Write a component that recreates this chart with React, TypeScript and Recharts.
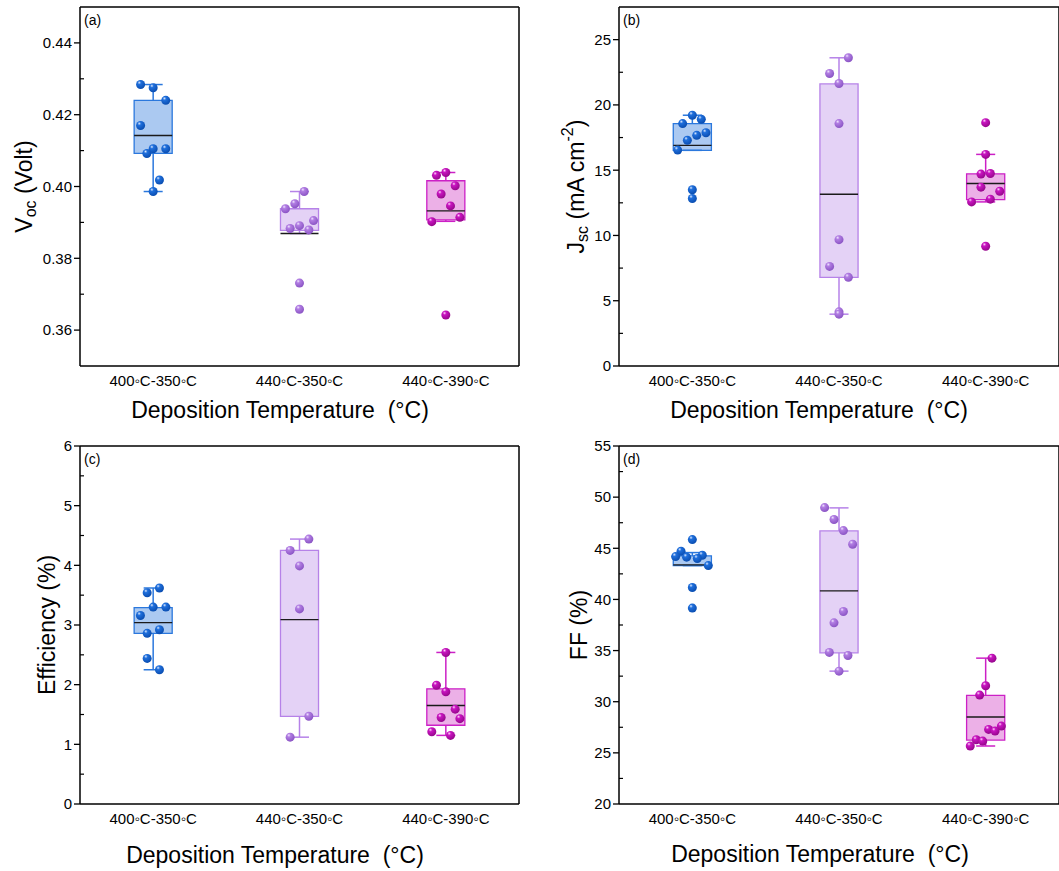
import React from 'react';
import { ComposedChart, XAxis, YAxis, Scatter, ReferenceArea, ReferenceLine } from 'recharts';

const categories = ['400◦C-350◦C', '440◦C-350◦C', '440◦C-390◦C'];

// points are [jitter offset in category units, value]
const vocPoints = [
  [[-0.086, 0.4284], [0, 0.4275], [0.086, 0.424], [-0.086, 0.417], [-0.043, 0.4092], [0, 0.4105], [0.086, 0.4105], [0.043, 0.4018], [0, 0.3986]],
  [[-0.096, 0.3938], [-0.032, 0.3952], [0.032, 0.3986], [0.096, 0.3905], [-0.064, 0.3883], [0, 0.3891], [0.064, 0.3879], [0, 0.3731], [0, 0.3658]],
  [[-0.064, 0.4031], [0, 0.4039], [0.064, 0.4002], [-0.032, 0.3979], [0.032, 0.3946], [-0.096, 0.3902], [0.096, 0.3914], [0, 0.3642]],
];
const vocBoxes = [
  { lo: 0.3986, q1: 0.4092, med: 0.4142, q3: 0.424, hi: 0.4284 },
  { lo: 0.3869, q1: 0.3878, med: 0.3869, q3: 0.3938, hi: 0.3986 },
  { lo: 0.3903, q1: 0.3907, med: 0.3932, q3: 0.4016, hi: 0.4039 },
];

const jscPoints = [
  [[0, 19.21], [-0.066, 18.57], [0.061, 18.9], [0.093, 17.87], [0.03, 17.67], [-0.034, 17.29], [-0.1, 16.54], [0, 13.5], [0, 12.83]],
  [[0.064, 23.61], [-0.064, 22.41], [0, 21.64], [0, 18.57], [0, 9.68], [-0.064, 7.63], [0.064, 6.79], [0, 4.15], [0, 3.97]],
  [[0, 18.64], [0, 16.21], [-0.032, 14.7], [0.032, 14.75], [-0.032, 13.7], [0.096, 13.39], [0.032, 12.78], [-0.096, 12.57], [0, 9.17]],
];
const jscBoxes = [
  { lo: 16.52, q1: 16.52, med: 16.9, q3: 18.57, hi: 19.21 },
  { lo: 3.97, q1: 6.79, med: 13.16, q3: 21.61, hi: 23.61 },
  { lo: 12.57, q1: 12.75, med: 13.98, q3: 14.72, hi: 16.21 },
];

const effPoints = [
  [[0.043, 3.62], [-0.041, 3.54], [0, 3.3], [0.087, 3.3], [-0.087, 3.16], [0.043, 2.92], [-0.041, 2.86], [-0.041, 2.44], [0.043, 2.25]],
  [[0.064, 4.44], [-0.064, 4.25], [0, 3.99], [0, 3.27], [0.064, 1.47], [-0.064, 1.12]],
  [[0, 2.54], [-0.064, 1.99], [0, 1.88], [0.064, 1.59], [-0.032, 1.45], [0.096, 1.43], [-0.096, 1.21], [0.032, 1.15]],
];
const effBoxes = [
  { lo: 2.25, q1: 2.86, med: 3.04, q3: 3.29, hi: 3.62 },
  { lo: 1.12, q1: 1.47, med: 3.09, q3: 4.25, hi: 4.44 },
  { lo: 1.15, q1: 1.32, med: 1.65, q3: 1.93, hi: 2.54 },
];

const ffPoints = [
  [[0, 45.85], [-0.077, 44.71], [-0.114, 44.19], [-0.039, 44.13], [0.068, 44.32], [0.034, 44.0], [0.109, 43.31], [0, 41.17], [0, 39.15]],
  [[-0.098, 48.98], [-0.034, 47.81], [0.03, 46.73], [0.093, 45.4], [0.03, 38.82], [-0.034, 37.71], [-0.066, 34.82], [0.061, 34.52], [0, 32.99]],
  [[0.043, 34.26], [0, 31.56], [-0.041, 30.65], [0.107, 27.62], [0.02, 27.29], [0.064, 27.13], [-0.064, 26.28], [-0.02, 26.15], [-0.105, 25.67]],
];
const ffBoxes = [
  { lo: 43.31, q1: 43.31, med: 43.38, q3: 44.26, hi: 44.58 },
  { lo: 32.99, q1: 34.78, med: 40.84, q3: 46.7, hi: 48.95 },
  { lo: 25.67, q1: 26.25, med: 28.5, q3: 30.62, hi: 34.26 },
];

const vocTicks = [0.36, 0.38, 0.40, 0.42, 0.44];
const vocMinor = [0.37, 0.39, 0.41, 0.43];
const jscTicks = [0, 5, 10, 15, 20, 25];
const jscMinor = [2.5, 7.5, 12.5, 17.5, 22.5];
const effTicks = [0, 1, 2, 3, 4, 5, 6];
const effMinor = [0.5, 1.5, 2.5, 3.5, 4.5, 5.5];
const ffTicks = [20, 25, 30, 35, 40, 45, 50, 55];
const ffMinor = [22.5, 27.5, 32.5, 37.5, 42.5, 47.5, 52.5];

const COLORS = [
  { edge: '#2b78dd', fill: '#abc9f1', pt: '#1f6fdc', dark: '#0b4fb3', light: '#dbe8ff' },
  { edge: '#b682e8', fill: '#e4d2f6', pt: '#b27ee3', dark: '#8d57c6', light: '#f1e6ff' },
  { edge: '#cc20c6', fill: '#ecb0e7', pt: '#c915c1', dark: '#99088f', light: '#ffd8fb' },
];

const BOX_HALF = 0.13;
const CAP_HALF = 0.065;

const noLabel = () => <g />;

const Panel = ({ id, left, top, width, height, margin, yWidth, xHeight, domain, ticks, minor, fmt, points, boxes, tag, yTitle, yTitleX, xTitleX, xTitleY }: any) => {
  const plotTop = margin.top;
  const plotBottom = height - xHeight;
  const midY = (plotTop + plotBottom) / 2;
  return (
    <div style={{ position: 'absolute', left, top }}>
      <ComposedChart width={width} height={height} margin={margin} style={{ fontFamily: '"Liberation Sans", Arial, sans-serif' }}>
        <defs>
          {COLORS.map((c, i) => (
            <radialGradient key={i} id={`${id}-g${i}`} cx="38%" cy="32%" r="65%" fx="35%" fy="28%">
              <stop offset="0%" stopColor={c.light} />
              <stop offset="30%" stopColor={c.pt} />
              <stop offset="100%" stopColor={c.dark} />
            </radialGradient>
          ))}
        </defs>
        <XAxis xAxisId={0} dataKey="x" type="number" domain={[0.5, 3.5]} allowDataOverflow ticks={[1, 2, 3]}
          tickFormatter={(v: number) => categories[v - 1]} tickLine={false} tickSize={6} tickMargin={3} height={xHeight}
          axisLine={{ stroke: '#000', strokeWidth: 1.5 }} tick={{ fontSize: 15, fill: '#000' }} />
        <XAxis xAxisId="xm" type="number" domain={[0.5, 3.5]} allowDataOverflow ticks={[1, 2, 3]} mirror tick={noLabel}
          axisLine={false} tickSize={7} tickLine={{ stroke: '#000', strokeWidth: 1.3 }} />
        <XAxis xAxisId="top" orientation="top" type="number" domain={[0, 1]} mirror tick={false} tickLine={false}
          axisLine={{ stroke: '#000', strokeWidth: 1.5 }} />
        <YAxis yAxisId={0} type="number" domain={domain} allowDataOverflow ticks={ticks} tickFormatter={fmt} width={yWidth}
          tickSize={6} tickMargin={2} interval={0} axisLine={{ stroke: '#000', strokeWidth: 1.5 }}
          tickLine={{ stroke: '#000', strokeWidth: 1.3 }} tick={{ fontSize: 15, fill: '#000' }} />
        <YAxis yAxisId="ym" type="number" domain={domain} allowDataOverflow ticks={minor} interval={0} mirror tick={noLabel}
          axisLine={false} tickSize={4} tickLine={{ stroke: '#000', strokeWidth: 1.2 }} />
        <YAxis yAxisId="right" orientation="right" type="number" domain={[0, 1]} mirror tick={false} tickLine={false}
          axisLine={{ stroke: '#000', strokeWidth: 1.5 }} />

        {boxes.map((b: any, i: number) => {
          const c = COLORS[i];
          const x = i + 1;
          return (
            <React.Fragment key={`box${i}`}>
              <ReferenceLine segment={[{ x, y: b.q3 }, { x, y: b.hi }]} stroke={c.edge} strokeWidth={1.5} />
              <ReferenceLine segment={[{ x, y: b.lo }, { x, y: b.q1 }]} stroke={c.edge} strokeWidth={1.5} />
              <ReferenceLine segment={[{ x: x - CAP_HALF, y: b.hi }, { x: x + CAP_HALF, y: b.hi }]} stroke={c.edge} strokeWidth={1.5} />
              <ReferenceLine segment={[{ x: x - CAP_HALF, y: b.lo }, { x: x + CAP_HALF, y: b.lo }]} stroke={c.edge} strokeWidth={1.5} />
              <ReferenceArea x1={x - BOX_HALF} x2={x + BOX_HALF} y1={b.q1} y2={b.q3} fill={c.fill} fillOpacity={1}
                stroke={c.edge} strokeWidth={1.3} />
              <ReferenceLine segment={[{ x: x - BOX_HALF, y: b.med }, { x: x + BOX_HALF, y: b.med }]} stroke="#1a1a1a" strokeWidth={1.4} />
            </React.Fragment>
          );
        })}

        {points.map((g: number[][], i: number) => (
          <Scatter key={`s${i}`} data={g.map(([dx, v]) => ({ x: i + 1 + dx, y: v }))} dataKey="y"
            isAnimationActive={false}
            shape={(p: any) => <circle cx={p.cx} cy={p.cy} r={4.5} fill={`url(#${id}-g${i})`} />} />
        ))}

        <text x={margin.left + yWidth + 4} y={plotTop + 18} fontSize={14} fill="#000">{tag}</text>
        <text x={xTitleX} y={xTitleY} fontSize={23} fill="#000" textAnchor="middle">
          Deposition Temperature{'\u00A0\u00A0'}(°C)
        </text>
        <text x={yTitleX} y={midY} fontSize={23} fill="#000" textAnchor="middle"
          dominantBaseline="central" transform={`rotate(-90, ${yTitleX}, ${midY})`}>
          {yTitle}
        </text>
      </ComposedChart>
    </div>
  );
};

export default function App() {
  return (
    <div style={{ position: 'absolute', left: 0, top: 0, width: 1059, height: 871, overflow: 'hidden', background: '#fff' }}>
      <Panel id="a" left={0} top={0} width={530} height={430} margin={{ top: 7, right: 11, left: 0, bottom: 0 }}
        yWidth={80} xHeight={64} domain={[0.35, 0.45]} ticks={vocTicks} minor={vocMinor} fmt={(v: number) => v.toFixed(2)}
        points={vocPoints} boxes={vocBoxes} tag="(a)" yTitleX={24} xTitleX={280} xTitleY={418}
        yTitle={<>V<tspan fontSize={16} dy={6}>oc</tspan><tspan dy={-6}>{'\u00A0'}(Volt)</tspan></>} />
      <Panel id="b" left={530} top={0} width={530} height={430} margin={{ top: 7, right: 1, left: 0, bottom: 0 }}
        yWidth={89} xHeight={64} domain={[0, 27.5]} ticks={jscTicks} minor={jscMinor} fmt={(v: number) => String(v)}
        points={jscPoints} boxes={jscBoxes} tag="(b)" yTitleX={46} xTitleX={289} xTitleY={418}
        yTitle={<>J<tspan fontSize={16} dy={6}>sc</tspan><tspan dy={-6}>{'\u00A0'}(mA cm</tspan><tspan fontSize={16} dy={-9}>-2</tspan><tspan dy={9}>)</tspan></>} />
      <Panel id="c" left={0} top={430} width={530} height={441} margin={{ top: 16, right: 11, left: 0, bottom: 0 }}
        yWidth={80} xHeight={67} domain={[0, 6]} ticks={effTicks} minor={effMinor} fmt={(v: number) => String(v)}
        points={effPoints} boxes={effBoxes} tag="(c)" yTitleX={47} xTitleX={275} xTitleY={433}
        yTitle={<>Efficiency (%)</>} />
      <Panel id="d" left={530} top={430} width={530} height={441} margin={{ top: 16, right: 1, left: 0, bottom: 0 }}
        yWidth={89} xHeight={67} domain={[20, 55]} ticks={ffTicks} minor={ffMinor} fmt={(v: number) => String(v)}
        points={ffPoints} boxes={ffBoxes} tag="(d)" yTitleX={49} xTitleX={290} xTitleY={432}
        yTitle={<>FF (%)</>} />
    </div>
  );
}
